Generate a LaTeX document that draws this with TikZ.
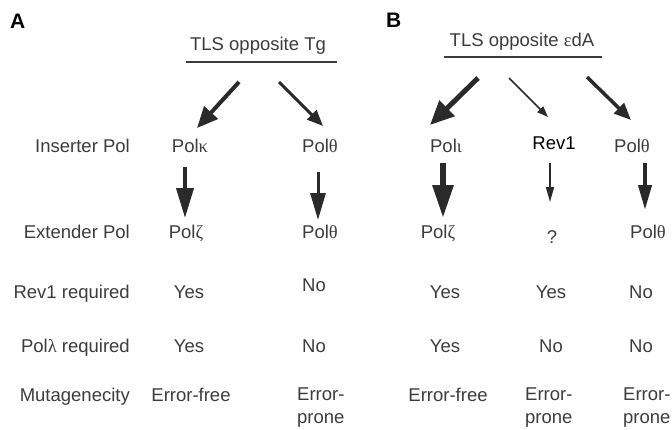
\documentclass[tikz,border=0pt]{standalone}
\usepackage{fontspec}
\setmainfont{Liberation Sans}
\newfontfamily\grkfont{Liberation Serif}
\newcommand{\gr}[1]{{\grkfont #1}}
\usetikzlibrary{arrows.meta}
\definecolor{ink}{HTML}{3C3C3C}
\definecolor{arrowink}{HTML}{2A2A2A}

\begin{document}
\begin{tikzpicture}[x=1pt,y=-1pt,
    every node/.style={inner sep=0pt,text=ink,font=\fontsize{18.5}{23}\selectfont},
    panel/.style={anchor=base west,text=black,font=\fontsize{21}{24}\selectfont\bfseries},
    rowlbl/.style={anchor=base east},
    cell/.style={anchor=base},
    lcell/.style={anchor=base west},
    twoline/.style={anchor=north west,align=left},
    arr/.style n args={3}{draw=arrowink,line width=#1,-{Triangle[length=#2,width=#3]}}]
  \useasboundingbox (0,0) rectangle (672,429);

  % panel letters and headers
  \node[panel] (pA) at (10,28) {A};
  \node[panel] (pB) at (386,27) {B};
  \node[cell] (tlsA) at (258,50.5) {TLS opposite Tg};
  \node[cell] (tlsB) at (522,46.5) {TLS opposite \gr{ε}dA};
  \draw[ink,line width=1.3pt] (186,62) -- (337,62);
  \draw[ink,line width=1.3pt] (444,57) -- (602,57);

  % row labels
  \node[rowlbl] (rIns) at (130,152.5) {Inserter Pol};
  \node[rowlbl] (rExt) at (130,238.5) {Extender Pol};
  \node[rowlbl] (rRev) at (130,298.5) {Rev1 required};
  \node[rowlbl] (rLam) at (130,352)   {Pol\gr{λ} required};
  \node[rowlbl] (rMut) at (130,401.5) {Mutagenecity};

  % panel A, first column
  \node[cell] (insA1) at (190,152.5) {Pol\gr{κ}};
  \node[cell] (extA1) at (186,238.5) {Pol\gr{ζ}};
  \node[cell] (revA1) at (189,298.5) {Yes};
  \node[cell] (lamA1) at (189,352)   {Yes};
  \node[cell] (mutA1) at (191,401.5) {Error-free};

  % panel A, second column
  \node[cell] (insA2) at (320,152.5) {Pol\gr{θ}};
  \node[cell] (extA2) at (320,238.5) {Pol\gr{θ}};
  \node[lcell] (revA2) at (302,291)  {No};
  \node[lcell] (lamA2) at (302,352)  {No};
  \node[twoline] (mutA2) at (297,388) {Error-\\prone};

  % panel B, first column
  \node[cell] (insB1) at (446,152.5) {Pol\gr{ι}};
  \node[cell] (extB1) at (438,238.5) {Pol\gr{ζ}};
  \node[cell] (revB1) at (445,298.5) {Yes};
  \node[cell] (lamB1) at (445,352)   {Yes};
  \node[cell] (mutB1) at (448,401.5) {Error-free};

  % panel B, second column
  \node[cell,text=black] (insB2) at (554,149) {Rev1};
  \node[cell] (extB2) at (552,243)   {?};
  \node[cell] (revB2) at (551,298.5) {Yes};
  \node[cell] (lamB2) at (551,352)   {No};
  \node[twoline] (mutB2) at (525,388) {Error-\\prone};

  % panel B, third column
  \node[cell] (insB3) at (632,152.5) {Pol\gr{θ}};
  \node[cell] (extB3) at (648,238.5) {Pol\gr{θ}};
  \node[lcell] (revB3) at (629,298.5) {No};
  \node[lcell] (lamB3) at (629,352)   {No};
  \node[twoline] (mutB3) at (623,388) {Error-\\prone};

  % arrow ends
  \coordinate (tA1) at (239,82);  \coordinate (hA1) at (197,128);
  \coordinate (tA2) at (279,82);  \coordinate (hA2) at (323,126);
  \coordinate (tB1) at (478,78);  \coordinate (hB1) at (430,125);
  \coordinate (tB2) at (509,78);  \coordinate (hB2) at (548,117);
  \coordinate (tB3) at (587,77);  \coordinate (hB3) at (631,120);
  \coordinate (dA1) at (185,167); \coordinate (eA1) at (185,218);
  \coordinate (dA2) at (318,172); \coordinate (eA2) at (318,220);
  \coordinate (dB1) at (443,163); \coordinate (eB1) at (443,218);
  \coordinate (dB2) at (550,163); \coordinate (eB2) at (550,202);
  \coordinate (dB3) at (645,163); \coordinate (eB3) at (645,210);

  % inserter arrows
  \draw[arr={4pt}{21pt}{18pt}]   (tA1) -- (hA1);
  \draw[arr={3pt}{16pt}{13pt}]   (tA2) -- (hA2);
  \draw[arr={5pt}{24pt}{21pt}]   (tB1) -- (hB1);
  \draw[arr={1.5pt}{11pt}{8pt}]  (tB2) -- (hB2);
  \draw[arr={3.5pt}{17pt}{14pt}] (tB3) -- (hB3);

  % extender arrows
  \draw[arr={4pt}{30pt}{17pt}]   (dA1) -- (eA1);
  \draw[arr={3pt}{27pt}{15pt}]   (dA2) -- (eA2);
  \draw[arr={6pt}{33pt}{20pt}]   (dB1) -- (eB1);
  \draw[arr={1.5pt}{15pt}{8pt}]  (dB2) -- (eB2);
  \draw[arr={4pt}{25pt}{13pt}]   (dB3) -- (eB3);
\end{tikzpicture}
\end{document}
